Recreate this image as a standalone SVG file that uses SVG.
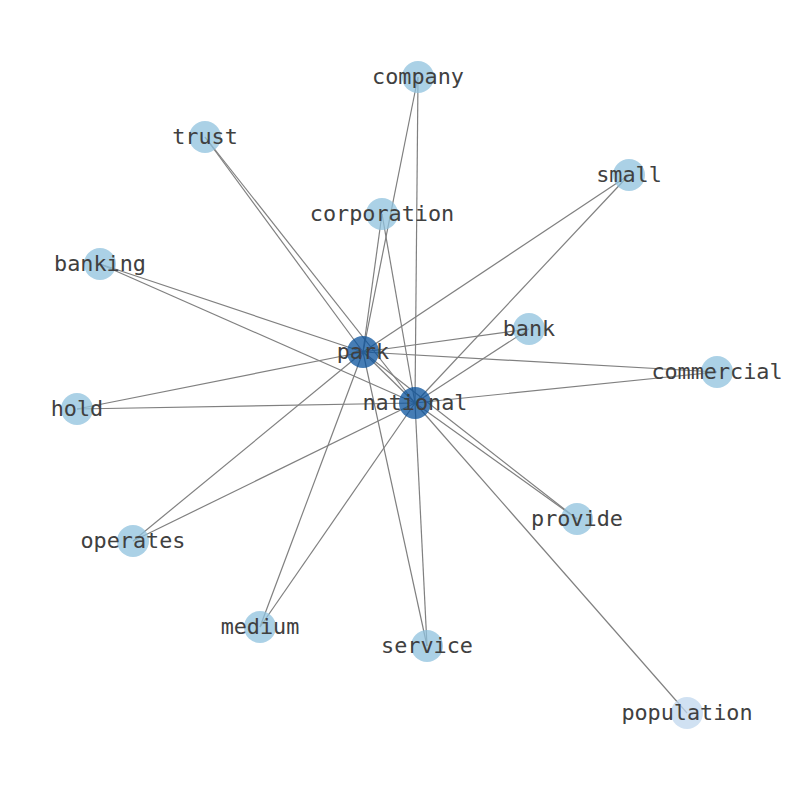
<svg xmlns="http://www.w3.org/2000/svg" width="794" height="790" viewBox="0 0 794 790">
<style>
.e{stroke:#808080;stroke-width:1.2;fill:none}
.n{fill:#8fc1de;fill-opacity:0.75}
.h{fill:#08519c;fill-opacity:0.75}
.p{fill:#c0d7ee;fill-opacity:0.75}
text{font-family:"DejaVu Sans Mono","Liberation Mono",monospace;font-size:21.8px;fill:#404040;text-anchor:middle;dominant-baseline:central}
</style>
<rect width="794" height="790" fill="#fff"/>
<g id="edges">
<line class="e" x1="363" y1="352" x2="418" y2="77"/>
<line class="e" x1="363" y1="352" x2="205" y2="137"/>
<line class="e" x1="363" y1="352" x2="629" y2="175"/>
<line class="e" x1="363" y1="352" x2="382" y2="214"/>
<line class="e" x1="363" y1="352" x2="100" y2="264"/>
<line class="e" x1="363" y1="352" x2="529" y2="329"/>
<line class="e" x1="363" y1="352" x2="717" y2="372"/>
<line class="e" x1="363" y1="352" x2="77" y2="409"/>
<line class="e" x1="363" y1="352" x2="133" y2="541"/>
<line class="e" x1="363" y1="352" x2="260" y2="627"/>
<line class="e" x1="363" y1="352" x2="427" y2="646"/>
<line class="e" x1="363" y1="352" x2="577" y2="519"/>
<line class="e" x1="363" y1="352" x2="415" y2="403"/>
<line class="e" x1="415" y1="403" x2="418" y2="77"/>
<line class="e" x1="415" y1="403" x2="205" y2="137"/>
<line class="e" x1="415" y1="403" x2="629" y2="175"/>
<line class="e" x1="415" y1="403" x2="382" y2="214"/>
<line class="e" x1="415" y1="403" x2="100" y2="264"/>
<line class="e" x1="415" y1="403" x2="529" y2="329"/>
<line class="e" x1="415" y1="403" x2="717" y2="372"/>
<line class="e" x1="415" y1="403" x2="77" y2="409"/>
<line class="e" x1="415" y1="403" x2="133" y2="541"/>
<line class="e" x1="415" y1="403" x2="260" y2="627"/>
<line class="e" x1="415" y1="403" x2="427" y2="646"/>
<line class="e" x1="415" y1="403" x2="577" y2="519"/>
<line class="e" x1="415" y1="403" x2="687" y2="713"/>
</g>
<g id="company"><circle class="n" cx="418" cy="77" r="16"/><text x="418" y="76">company</text></g>
<g id="trust"><circle class="n" cx="205" cy="137" r="16"/><text x="205" y="136">trust</text></g>
<g id="small"><circle class="n" cx="629" cy="175" r="16"/><text x="629" y="174">small</text></g>
<g id="corporation"><circle class="n" cx="382" cy="214" r="16"/><text x="382" y="213">corporation</text></g>
<g id="banking"><circle class="n" cx="100" cy="264" r="16"/><text x="100" y="263">banking</text></g>
<g id="bank"><circle class="n" cx="529" cy="329" r="16"/><text x="529" y="328">bank</text></g>
<g id="commercial"><circle class="n" cx="717" cy="372" r="16"/><text x="717" y="371">commercial</text></g>
<g id="hold"><circle class="n" cx="77" cy="409" r="16"/><text x="77" y="408">hold</text></g>
<g id="operates"><circle class="n" cx="133" cy="541" r="16"/><text x="133" y="540">operates</text></g>
<g id="medium"><circle class="n" cx="260" cy="627" r="16"/><text x="260" y="626">medium</text></g>
<g id="service"><circle class="n" cx="427" cy="646" r="16"/><text x="427" y="645">service</text></g>
<g id="provide"><circle class="n" cx="577" cy="519" r="16"/><text x="577" y="518">provide</text></g>
<g id="population"><circle class="p" cx="687" cy="713" r="16"/><text x="687" y="712">population</text></g>
<g id="park"><circle class="h" cx="363" cy="352" r="16"/><text x="363" y="351">park</text></g>
<g id="national"><circle class="h" cx="415" cy="403" r="16"/><text x="415" y="402">national</text></g>
</svg>
